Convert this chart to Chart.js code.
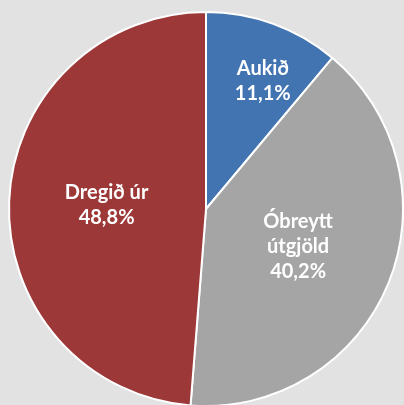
<!DOCTYPE html>
<html>
<head>
<meta charset="utf-8">
<script src="https://cdn.jsdelivr.net/npm/chart.js@4.4.1/dist/chart.umd.min.js"></script>
<style>
  html, body { margin: 0; padding: 0; background: #e2e2e2; overflow: hidden; }
  #wrap { position: absolute; left: 0; top: 0; width: 404px; height: 420px; }
</style>
</head>
<body>
<div id="wrap"><canvas id="pie"></canvas></div>
<script>
// === DATA ===
var LABELS = [['Aukið'], ['Óbreytt', 'útgjöld'], ['Dregið úr']];
var VALUES = [11.1, 40.2, 48.8];
var COLORS = ['#4274b2', '#a5a5a5', '#9c3837'];
// label placement: share of radius out from centre, and share of the slice's sweep
var LABEL_DIST  = [0.71, 0.505, 0.505];
var LABEL_SWEEP = [0.6, 0.5, 0.5];

(function () {
  'use strict';

  var FONT = 'bold 20px Lato, "Open Sans", sans-serif';
  var LINE_H = 25;

  var sliceLabels = {
    id: 'sliceLabels',
    afterDatasetsDraw: function (chart) {
      var ctx = chart.ctx;
      var meta = chart.getDatasetMeta(0);
      ctx.save();
      ctx.font = FONT;
      ctx.fillStyle = '#ffffff';
      ctx.textAlign = 'center';
      ctx.textBaseline = 'middle';
      meta.data.forEach(function (arc, i) {
        var p = arc.getProps(['x', 'y', 'startAngle', 'endAngle', 'outerRadius'], true);
        var ang = p.startAngle + (p.endAngle - p.startAngle) * LABEL_SWEEP[i];
        var r = p.outerRadius * LABEL_DIST[i];
        var cx = p.x + Math.cos(ang) * r;
        var cy = p.y + Math.sin(ang) * r;
        var lines = LABELS[i].concat([VALUES[i].toFixed(1).replace('.', ',') + '%']);
        var top = cy - (lines.length - 1) * LINE_H / 2;
        lines.forEach(function (t, k) {
          ctx.fillText(t, cx, top + k * LINE_H);
        });
      });
      ctx.restore();
    }
  };

  new Chart(document.getElementById('pie'), {
    type: 'pie',
    data: {
      labels: LABELS.map(function (l) { return l.join(' '); }),
      datasets: [{
        data: VALUES,
        backgroundColor: COLORS,
        borderColor: '#ffffff',
        borderWidth: 2
      }]
    },
    options: {
      responsive: true,
      maintainAspectRatio: false,
      animation: false,
      layout: { padding: { left: 8, top: 11, right: 0, bottom: 13 } },
      plugins: {
        legend: { display: false },
        tooltip: { enabled: false }
      }
    },
    plugins: [sliceLabels]
  });
}());
</script>
</body>
</html>
